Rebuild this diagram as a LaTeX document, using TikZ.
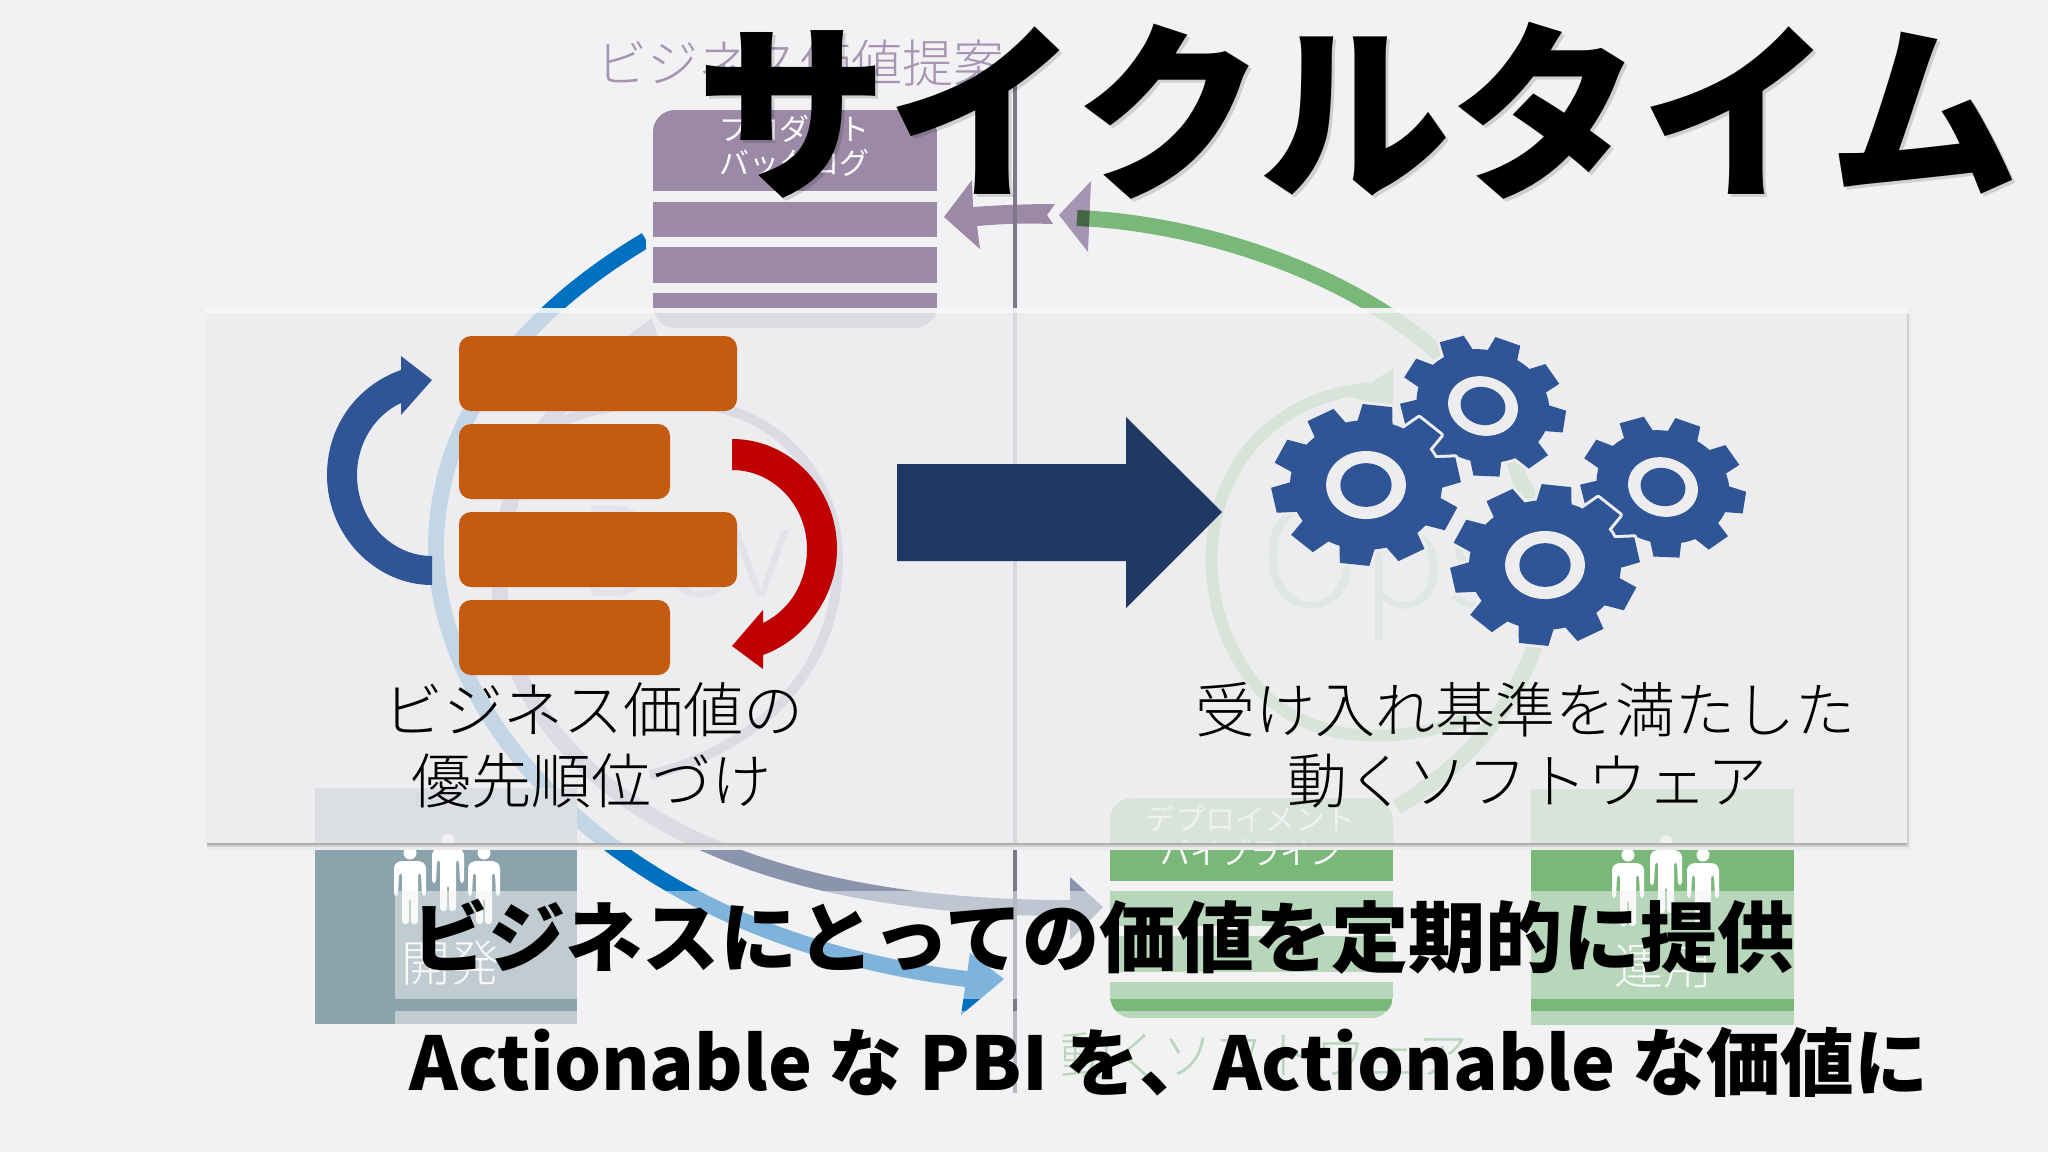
\documentclass[tikz,border=0pt]{standalone}
\usepackage{fontspec}
\setmainfont{Noto Sans CJK JP}
\newfontfamily\jpl{Noto Sans CJK JP Light}
\definecolor{bgc}{HTML}{F2F2F5}
\definecolor{panelc}{HTML}{EDEDEF}
\definecolor{purp}{HTML}{9B89A6}
\definecolor{purptxt}{HTML}{A594B2}
\definecolor{greenc}{HTML}{7AB87A}
\definecolor{devc}{HTML}{8AA3AD}
\definecolor{blueA}{HTML}{0070C0}
\definecolor{greyA}{HTML}{8A94AD}
\definecolor{orangeb}{HTML}{C55A11}
\definecolor{gearb}{HTML}{2F5597}
\definecolor{navy}{HTML}{1F3864}
\definecolor{redc}{HTML}{C00000}
\definecolor{vline}{HTML}{7A7A88}
\tikzset{
  arcstroke/.style={line width=8pt},
  bar/.style={fill=orangeb,rounded corners=6pt},
  txt/.style={inner sep=0pt,text=black},
  wtxt/.style={inner sep=0pt,text=white,align=center,font=\fontsize{15}{17}\selectfont},
  veil/.style={fill=bgc,fill opacity=.52},
}
\newcommand\fsz[1]{\fontsize{#1}{#1}\selectfont}
\newcommand\personicon[2]{%
  \begin{scope}[shift={(#1,#2)}]
    \fill[white] (0,7) circle[radius=6.5];
    \fill[white,rounded corners=1.5pt] (-11,15)--(11,15)--(16,19)--(16,50)--(12,50)--(11,27)--(8,27)--(8,78)--(1,78)--(1,52)--(-1,52)--(-1,78)--(-8,78)--(-8,27)--(-11,27)--(-12,50)--(-16,50)--(-16,19)--cycle;
  \end{scope}}
% cx cy rx ry rot nteeth phase
\newcommand\gearicon[7]{%
  \begin{scope}[shift={(#1,#2)},rotate=#5,xscale=#3,yscale=#4]
    \foreach \i in {1,...,#6}{%
      \pgfmathsetmacro\ga{#7+\i*360/#6}%
      \filldraw[panelc,line width=3pt,line join=round] ({\ga-14}:.78)--({\ga-9}:1)--({\ga+9}:1)--({\ga+14}:.78)--cycle;}
    \filldraw[panelc,line width=3pt] (0,0) circle[radius=.8];
    \foreach \i in {1,...,#6}{%
      \pgfmathsetmacro\ga{#7+\i*360/#6}%
      \fill[gearb] ({\ga-14}:.78)--({\ga-9}:1)--({\ga+9}:1)--({\ga+14}:.78)--cycle;}
    \fill[gearb] (0,0) circle[radius=.8];
    \fill[panelc] (0,0) circle[radius=.42];
    \fill[gearb] (0,0) circle[radius=.27];
  \end{scope}}
\begin{document}
\begin{tikzpicture}[x=.5pt,y=-.5pt]
\useasboundingbox (0,0) rectangle (2048,1152);
\fill[bgc] (0,0) rectangle (2048,1152);

% heading of the faded diagram
\node[inner sep=0pt,text=purptxt] (valueprop) at (800,63) {\jpl\fsz{25.5}ビジネス価値提案};

% purple arrow
\fill[purp] (1055,204)--(1047,215)--(1053,224) .. controls (1020,223) and (1000,224) .. (977,226)--(980,249)--(944,217)--(972,180)--(973,207) .. controls (1000,205) and (1030,204) .. (1055,204)--cycle;

% big arcs
\draw[blueA,arcstroke] (646,240) .. controls (520,315) and (436,420) .. (436,548) .. controls (436,720) and (620,940) .. (975,980);
\fill[blueA] (1004,979)--(970,953)--(961,1015)--cycle;
\fill[bgc] (646,100) rectangle (653,340);
\draw[greyA,arcstroke] (600,370) .. controls (530,420) and (495,510) .. (500,596) .. controls (505,720) and (640,910) .. (1075,908);
\fill[greyA] (1103,907)--(1070,877)--(1070,940)--cycle;
\draw[greyA,line width=5pt] (650,775) .. controls (770,745) and (840,660) .. (838,555) .. controls (835,470) and (770,410) .. (700,405) .. controls (640,400) and (590,405) .. (545,430);
\fill[greyA] (622,340)--(652,318)--(660,345)--cycle;
\draw[greenc,arcstroke] (1077,218) .. controls (1250,225) and (1480,320) .. (1520,480) .. controls (1585,590) and (1525,730) .. (1397,807);
\draw[greenc,line width=6pt] (1470,718) .. controls (1400,745) and (1310,745) .. (1260,690) .. controls (1190,610) and (1195,480) .. (1280,420) .. controls (1310,398) and (1340,392) .. (1370,388);
\fill[greenc] (1393,368)--(1350,397)--(1393,408)--cycle;
\fill[purptxt] (1059,215)--(1091,181)--(1088,252)--cycle;
\begin{scope}
  \clip (1059,215)--(1091,181)--(1088,252)--cycle;
  \draw[black!45!greenc,arcstroke] (1077,218) -- (1110,220);
\end{scope}

% faint loop labels
\node[anchor=base,inner sep=0pt,text=greyA,text opacity=.6] (devlabel) at (685,596) {\jpl\fsz{62}Dev};
\node[anchor=base,inner sep=0pt,text=greenc,text opacity=.6] (opslabel) at (1385,607) {\jpl\fsz{70}Ops};

% product backlog
\begin{scope}
  \clip[rounded corners=11pt] (653,110) rectangle (937,328);
  \fill[purp] (653,110) rectangle (937,191);
  \fill[purp] (653,202) rectangle (937,237);
  \fill[purp] (653,247) rectangle (937,283);
  \fill[purp] (653,293) rectangle (937,328);
\end{scope}
\node[wtxt] (backlog) at (794,146) {プロダクト\\バックログ};

% dev team
\fill[devc] (315,788) rectangle (577,1024);
\personicon{410}{846}
\personicon{448}{833}
\personicon{484}{846}
\node[inner sep=0pt,text=white] (devteam) at (450,963) {\jpl\fsz{24.5}開発};

% deployment pipeline
\begin{scope}
  \clip[rounded corners=11pt] (1110,798) rectangle (1393,1018);
  \fill[greenc] (1110,798) rectangle (1393,881);
  \fill[greenc] (1110,891) rectangle (1393,926);
  \fill[greenc] (1110,936) rectangle (1393,972);
  \fill[greenc] (1110,982) rectangle (1393,1018);
\end{scope}
\node[wtxt] (pipeline) at (1250,835) {デプロイメント\\パイプライン};

% ops team
\fill[greenc] (1531,789) rectangle (1794,1025);
\personicon{1628}{848}
\personicon{1666}{835}
\personicon{1703}{848}
\node[inner sep=0pt,text=white] (opsteam) at (1663,967) {\jpl\fsz{24.5}運用};

\node[inner sep=0pt,text=greenc] (software) at (1264,1055) {\jpl\fsz{25.5}動くソフトウェア};

% vertical divider
\draw[vline,line width=1.8pt] (1015,75) -- (1015,1093);

% veils over the lower part
\fill[veil] (395,891) rectangle (1800,999);
\fill[veil] (395,1011) rectangle (1800,1100);

% panel shadow and panel
\fill[black!32] (207,843) rectangle (1907,845);
\fill[black!18] (207,845) rectangle (1909,847);
\fill[black!8] (207,847) rectangle (1911,850);
\fill[black!18] (1907,314) rectangle (1909,847);
\fill[black!8] (1909,314) rectangle (1911,850);
\fill[panelc,fill opacity=.82] (205,308) rectangle (1907,843);
\fill[white,fill opacity=.6] (205,308) rectangle (1907,313);

% backlog bars
\fill[bar] (459,336) rectangle (737,411);
\fill[bar] (459,424) rectangle (670,499);
\fill[bar] (459,512) rectangle (737,587);
\fill[bar] (459,600) rectangle (670,675);

% loop arrows
\fill[gearb] (432,585) .. controls (375,585) and (327,535) .. (327,475) .. controls (327,425) and (358,385) .. (401,370) -- (401,356) -- (432,380) -- (401,415) -- (401,403) .. controls (375,415) and (357,443) .. (357,475) .. controls (357,520) and (391,556) .. (432,556) -- cycle;
\fill[redc] (732,439) .. controls (790,439) and (837,488) .. (837,549) .. controls (837,596) and (805,640) .. (763,655) -- (763,669) -- (732,646) -- (763,610) -- (763,623) .. controls (790,610) and (807,582) .. (807,549) .. controls (807,505) and (773,470) .. (732,470) -- cycle;

% big arrow
\fill[navy] (897,464) -- (1126,464) -- (1126,417) -- (1222,512) -- (1126,608) -- (1126,561) -- (897,561) -- cycle;

% gears
\gearicon{1483}{406}{84}{70}{-15}{9}{-85}
\gearicon{1663}{487}{84}{70}{-15}{9}{-85}
\gearicon{1366}{485}{95}{81}{0}{10}{-83}
\gearicon{1545}{565}{95}{81}{0}{10}{-83}

% panel captions
\node[txt] (capL1) at (593,710) {\jpl\fsz{30}ビジネス価値の};
\node[txt] (capL2) at (591,781) {\jpl\fsz{30}優先順位づけ};
\node[txt] (capR1) at (1525,710) {\jpl\fsz{30}受け入れ基準を満たした};
\node[txt] (capR2) at (1527,781) {\jpl\fsz{30}動くソフトウェア};

% headline
\node[inner sep=0pt,text=black,text opacity=.14] (titleshadow) at (1361,114) {\bfseries\fsz{95.5}サイクルタイム};
\node[inner sep=0pt,text=black] (title) at (1358,111) {\bfseries\fsz{95.5}サイクルタイム};
\node[txt] (line1) at (1103,937) {\bfseries\fsz{38.6}ビジネスにとっての価値を定期的に提供};
\node[txt] (line2) at (1169,1062) {\bfseries\fsz{37}Actionable な PBI を、Actionable な価値に};
\end{tikzpicture}
\end{document}
